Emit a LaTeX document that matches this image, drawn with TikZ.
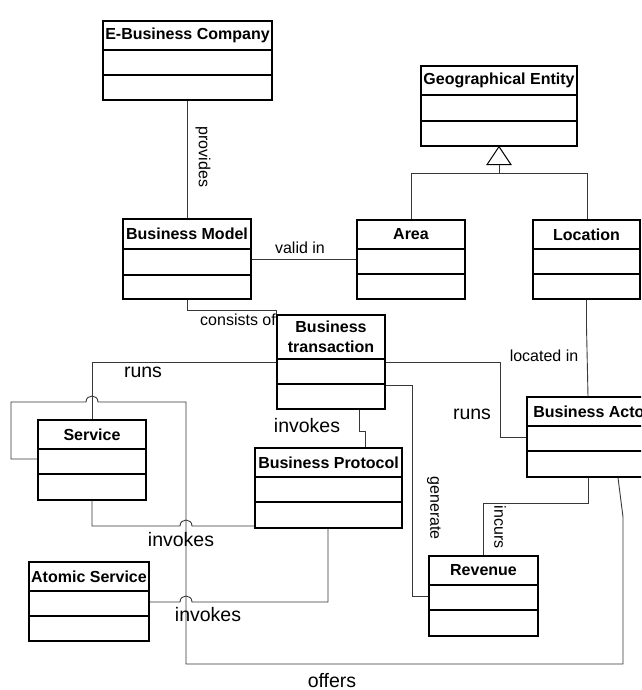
\documentclass[tikz,border=0pt]{standalone}
\usepackage{fontspec}
\setmainfont{Liberation Sans}
\usetikzlibrary{fit}

\tikzset{
  classframe/.style={draw=black, line width=1.3pt, inner sep=0pt},
  classdiv/.style={draw=black, line width=1.3pt},
  classtitle/.style={font=\fontsize{16}{20}\selectfont\bfseries, align=center, inner sep=0pt},
  assoc/.style={draw=black!78, line width=0.9pt},
  smalllabel/.style={font=\fontsize{16}{19}\selectfont, inner sep=0pt},
  biglabel/.style={font=\fontsize{19.5}{22}\selectfont, inner sep=0pt},
  genhead/.style={draw=black, line width=1pt, fill=white},
}

% class box: name, x1, y1, x2, y2, first divider, second divider, title
\newcommand\classbox[8]{%
  \node[classframe, fit={(#2,#3) (#4,#5)}] (#1) {};
  \draw[classdiv] (#2,#6) -- (#4,#6) (#2,#7) -- (#4,#7);
  \node[classtitle] (#1-title) at ({(#2+#4)/2},{(#3+#6)/2}) {#8};
}

\begin{document}
\begin{tikzpicture}[x=1pt, y=-1pt]
  \clip (0,0) rectangle (641,690);
  \fill[white] (0,0) rectangle (641,690);

  % classes
  \classbox{ebc}{103}{21}{272}{100}{50}{75}{E-Business Company}
  \classbox{bm}{123}{219}{251}{299}{249}{275}{Business Model}
  \classbox{geo}{421}{66}{577}{146}{95}{121}{Geographical Entity}
  \classbox{area}{357}{220}{465}{299}{249}{274}{Area}
  \classbox{loc}{533}{220}{640}{299}{249}{274}{Location}
  \classbox{bt}{277}{315}{385}{409}{359}{384}{Business\\transaction}
  \classbox{svc}{38}{420}{146}{500}{449}{474}{Service}
  \classbox{bp}{255}{448}{402}{528}{477}{502}{Business Protocol}
  \classbox{ba}{527}{397}{657}{477}{426}{451}{Business Actor}
  \classbox{rev}{429}{556}{538}{636}{585}{610}{Revenue}
  \classbox{as}{29}{562}{149}{641}{591}{616}{Atomic Service}

  % generalization
  \draw[genhead] (geo.south) -- ++(-12,18) -- ++(24,0) -- cycle;
  \draw[assoc] (geo.south) ++(0,18) -- ++(0,9) coordinate (genjoin);
  \draw[assoc] (area.north -| 411,0) |- (genjoin) -| (loc.north -| 587,0);

  % associations
  \draw[assoc] (ebc.south) -- (ebc.south |- bm.north);
  \draw[assoc] (bm.east |- 0,259) -- (area.west |- 0,259);
  \draw[assoc] (bm.south) -- ++(0,11) -| (bt.north west);
  \draw[assoc] (bt.west |- 0,362) -| (svc.north);
  \draw[assoc] (bt.east |- 0,362) -- (500,362) -- (500,437) -- (ba.west |- 0,437);
  \draw[assoc] (bt.south -| 359,0) -- (359,431) -- (365,431) -- (bp.north -| 365,0);
  \draw[assoc] (bt.east |- 0,385) -- (412,385) -- (412,596) -- (rev.west |- 0,596);
  \draw[assoc] (ba.south -| 588,0) -- (588,503) -| (rev.north);
  \draw[assoc] (loc.south) -- ++(0,27) -- (ba.north -| 588,0);
  \draw[assoc] (svc.west |- 0,459) -- (11,459) -- (11,402) -- (86,402)
    .. controls (86,394) and (98,394) .. (98,402)
    -- (186,402) -- (186,664) -- (623,664) -- (623,517) -- (ba.south -| 618,0);
  \draw[assoc] (svc.south) -- (92,526) -- (180,526)
    .. controls (180,518) and (192,518) .. (192,526)
    -- (bp.west |- 0,526);
  \draw[assoc] (as.east |- 0,602) -- (180,602)
    .. controls (180,594) and (192,594) .. (192,602)
    -- (328,602) -- (bp.south -| 328,0);

  % association labels
  \node[smalllabel, rotate=-90] (lprovides) at (203,157) {provides};
  \node[smalllabel] (lvalid) at (300,248) {valid in};
  \node[smalllabel] (lconsists) at (238,320) {consists of};
  \node[smalllabel] (llocated) at (544,356) {located in};
  \node[biglabel] (lrunsa) at (143,372) {runs};
  \node[biglabel] (lrunsb) at (472,414) {runs};
  \node[biglabel] (linvokesa) at (307,426) {invokes};
  \node[biglabel] (linvokesb) at (181,540) {invokes};
  \node[biglabel] (linvokesc) at (208,615) {invokes};
  \node[smalllabel, rotate=-90] (lgenerate) at (434,508) {generate};
  \node[smalllabel, rotate=-90] (lincurs) at (500,527) {incurs};
  \node[biglabel] (loffers) at (332,681) {offers};
\end{tikzpicture}
\end{document}
